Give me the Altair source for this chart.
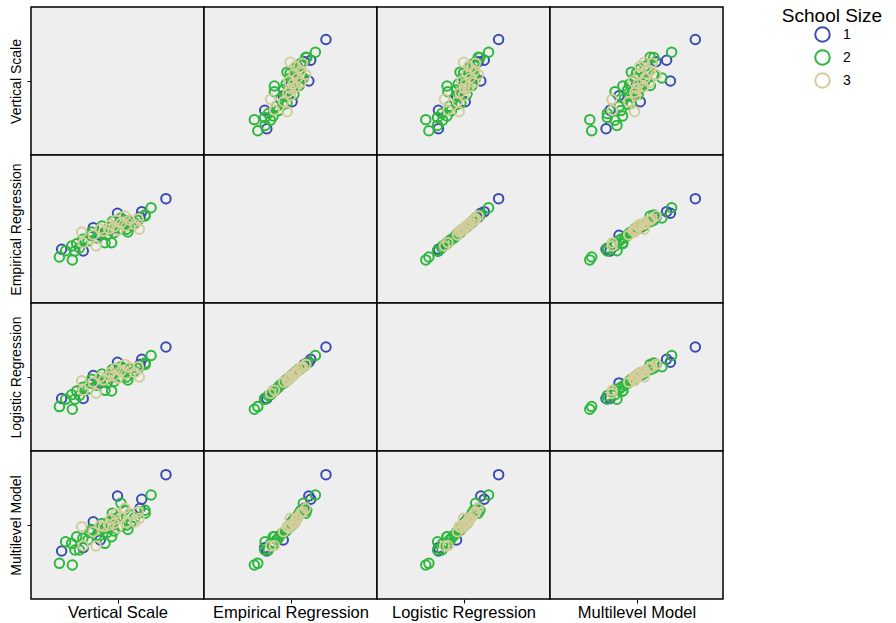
import altair as alt
import pandas as pd

# ---- data (common scale 0-100) ----
school_size = (["1"] * 9) + (["2"] * 35) + (["3"] * 18)

vertical_scale = [
    78, 64, 63, 50, 36, 17.7, 30.2, 40, 47,
    69.4, 66, 16.4, 23.9, 23.5, 25.4, 26.4, 34.1, 42.8, 46.6,
    55.3, 52, 65.9, 28, 20, 40, 43, 45, 48, 50,
    52, 38, 44, 57, 54, 60, 41, 35, 48, 58,
    33, 62, 47, 30, 56,
    54.3, 62.6, 29.3, 30.2, 37.6, 60, 45, 48, 50, 52,
    42, 55, 46, 40, 57, 36, 49, 62,
]
empirical_regression = [
    70.5, 61.7, 58, 60.6, 50.9, 36.3, 35.1, 45.8, 50,
    64.4, 58.8, 31.1, 29.1, 38.5, 35.1, 40, 45.7, 40.7, 40.7,
    49.8, 57.4, 59.4, 37.2, 35.3, 47, 49, 51, 52, 53,
    50, 44, 46, 55, 56, 54, 52, 48, 47.5, 52,
    42, 56, 55, 43, 48,
    58.8, 49.8, 48, 40.7, 38.5, 53, 50, 51.5, 49, 54,
    48.5, 52, 53, 50, 56, 46, 56, 57,
]
logistic_regression = [
    70.3, 62, 58.5, 60, 51, 35.5, 35.5, 46, 50,
    64.5, 58.5, 30, 28.2, 38, 35, 40.5, 46, 41, 40.5,
    50, 57, 59.5, 37.5, 35, 47.5, 48.5, 51.5, 52, 53.5,
    50, 44.5, 46, 55.5, 56, 54, 52, 48.5, 47, 52.5,
    42, 56, 55, 43, 48,
    58.5, 50, 47.5, 41, 39, 53, 50.5, 51, 49, 54,
    48, 52, 53, 50, 56.5, 46.5, 56, 57,
]
multilevel_model = [
    84, 67.4, 61.3, 69.6, 52.2, 32.4, 34.7, 39.9, 50,
    70.3, 57.9, 24.1, 23, 37.5, 33.1, 42, 45, 37.6, 42.1,
    50, 64.7, 60, 33.1, 38.7, 46, 48, 52, 54, 55,
    49, 43, 45, 57, 60, 55, 51, 47, 46, 52,
    40, 59, 58, 41, 47,
    61.3, 54.5, 48.9, 36, 35.8, 52, 50, 51, 48, 55,
    49, 51.5, 54, 49.5, 58, 45.5, 57.5, 59,
]

df = pd.DataFrame({
    "size": school_size,
    "VS": vertical_scale,
    "ER": empirical_regression,
    "LR": logistic_regression,
    "ML": multilevel_model,
})

variables = [
    ("VS", "Vertical Scale"),
    ("ER", "Empirical Regression"),
    ("LR", "Logistic Regression"),
    ("ML", "Multilevel Model"),
]

PW, PH = 173, 148
scale = alt.Scale(domain=[0, 100], nice=False, zero=False)


def make_axis(title, font_size, pad):
    return alt.Axis(
        title=title, values=[50], labels=False, ticks=True, tickSize=4,
        tickColor="black", domain=False, grid=False,
        titleFontSize=font_size, titleFontWeight="normal", titleColor="black",
        titleFont="Liberation Sans", titlePadding=pad,
    )


cells = []
for i, (yf, yt) in enumerate(variables):
    for j, (xf, xt) in enumerate(variables):
        x_axis = make_axis(xt, 16.5, 1) if i == 3 else None
        y_axis = make_axis(yt, 14, 3) if j == 0 else None
        x = alt.X(f"{xf}:Q", scale=scale, axis=x_axis)
        y = alt.Y(f"{yf}:Q", scale=scale, axis=y_axis)
        if i == j:
            c = alt.Chart(df).mark_point(opacity=0).encode(x=x, y=y)
        else:
            c = alt.Chart(df).mark_point(
                filled=False, size=90, strokeWidth=2, opacity=1
            ).encode(
                x=x, y=y,
                color=alt.Color(
                    "size:N",
                    scale=alt.Scale(domain=["1", "2", "3"],
                                    range=["#3B4CB0", "#2DB83D", "#D3CD9A"]),
                    legend=alt.Legend(
                        title="School Size", orient="none",
                        legendX=751, legendY=0,
                        titleFontSize=19, titleFontWeight="normal",
                        titleFont="Liberation Sans", titleColor="black",
                        titlePadding=0,
                        labelFontSize=14, labelFont="Liberation Sans",
                        labelColor="black", symbolType="circle",
                        symbolSize=210, symbolStrokeWidth=2,
                        symbolFillColor="transparent",
                        titleAnchor="middle", rowPadding=0, labelOffset=12,
                    ),
                ),
            )
        cells.append(c.properties(width=PW, height=PH))

chart = alt.concat(*cells, columns=4, spacing=0, bounds="flush").properties(
    padding={"left": 8, "top": 6, "right": 0, "bottom": 0}
).configure_view(
    stroke="black", strokeWidth=1.5, fill="#EEEEEE"
)

chart.save("out.html", embed_options={"renderer": "svg", "actions": False})
